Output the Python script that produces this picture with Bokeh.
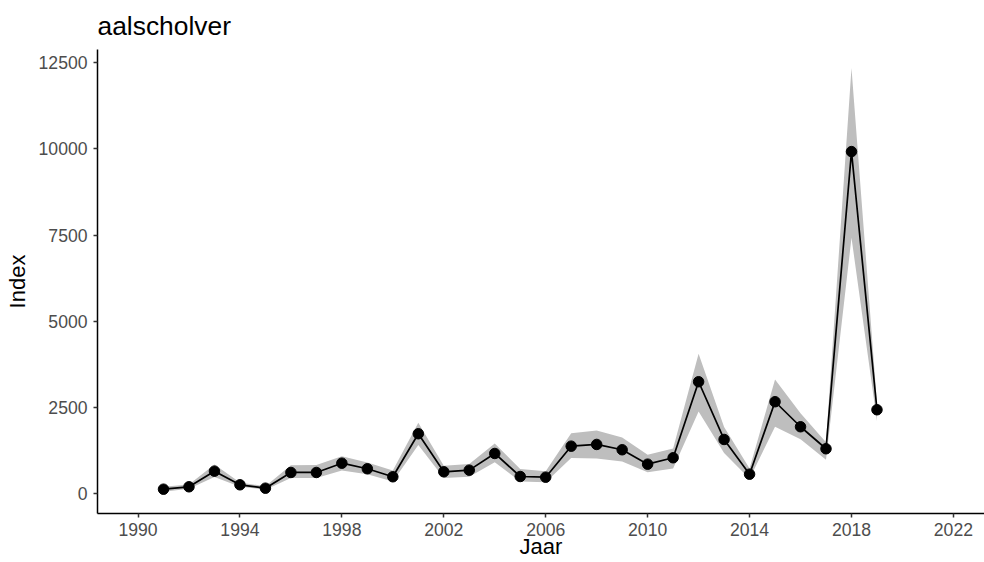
from bokeh.plotting import figure
from bokeh.models import Range1d, FixedTicker, ColumnDataSource
from bokeh.embed import file_html
from bokeh.resources import INLINE

# ---- data ----
years = list(range(1991, 2020))
index_values = [116, 186, 640, 244, 145, 602, 602, 872, 709, 477,
                1727, 622, 669, 1154, 485, 465, 1366, 1416, 1262, 843,
                1029, 3238, 1561, 552, 2657, 1930, 1291, 9924, 2424]
lower_ci = [40, 130, 470, 190, 100, 440, 440, 660, 550, 340,
            1400, 440, 480, 900, 340, 320, 1020, 1010, 920, 610,
            720, 2370, 1170, 420, 1930, 1570, 970, 7420, 2100]
upper_ci = [190, 250, 830, 310, 200, 810, 820, 1070, 890, 660,
            2050, 800, 850, 1440, 700, 640, 1740, 1820, 1620, 1120,
            1300, 4050, 1920, 720, 3300, 2320, 1480, 12350, 2620]
x_ticks = [1990, 1994, 1998, 2002, 2006, 2010, 2014, 2018, 2022]
y_ticks = [0, 2500, 5000, 7500, 10000, 12500]

FONT = "Liberation Sans"
X0, X1 = 1988.41, 2023.22
Y0, Y1 = -590, 12890

src = ColumnDataSource(dict(year=years, idx=index_values, lo=lower_ci, hi=upper_ci))

p = figure(width=984, height=562, output_backend="svg", toolbar_location=None,
           x_range=Range1d(X0, X1), y_range=Range1d(Y0, Y1),
           title="aalscholver",
           min_border_left=97, min_border_right=0, min_border_top=49, min_border_bottom=49)

p.varea(x="year", y1="lo", y2="hi", source=src, fill_color="#bebebe", fill_alpha=1.0)
p.line(x="year", y="idx", source=src, line_color="black", line_width=1.7)
p.scatter(x="year", y="idx", source=src, size=10.5, fill_color="black", line_color="black")

# theme_classic look
p.outline_line_color = None
p.background_fill_color = "white"
p.border_fill_color = "white"
p.xgrid.grid_line_color = None
p.ygrid.grid_line_color = None

p.title.text_font = FONT
p.title.text_font_size = "26.4px"
p.title.text_font_style = "normal"
p.title.text_color = "black"
p.title.align = "left"
p.title.offset = 0
p.title.standoff = 17

for ax in (p.xaxis[0], p.yaxis[0]):
    ax.axis_line_color = "black"
    ax.axis_line_width = 1.5
    ax.major_tick_line_color = "#333333"
    ax.major_tick_line_width = 1.5
    ax.major_tick_out = 4
    ax.major_tick_in = 0
    ax.minor_tick_line_color = None
    ax.major_label_text_font = FONT
    ax.major_label_text_font_size = "17.6px"
    ax.major_label_text_color = "#4d4d4d"
    ax.axis_label_text_font = FONT
    ax.axis_label_text_font_size = "22px"
    ax.axis_label_text_font_style = "normal"
    ax.axis_label_text_color = "black"

p.xaxis[0].ticker = FixedTicker(ticks=x_ticks)
p.yaxis[0].ticker = FixedTicker(ticks=y_ticks)
p.xaxis[0].axis_label = "Jaar"
p.xaxis[0].major_label_standoff = 5
p.xaxis[0].axis_label_standoff = -5
p.yaxis[0].axis_label = "Index"
p.yaxis[0].major_label_standoff = 6
p.yaxis[0].axis_label_standoff = 6

open("out.html", "w").write(file_html(p, INLINE))
